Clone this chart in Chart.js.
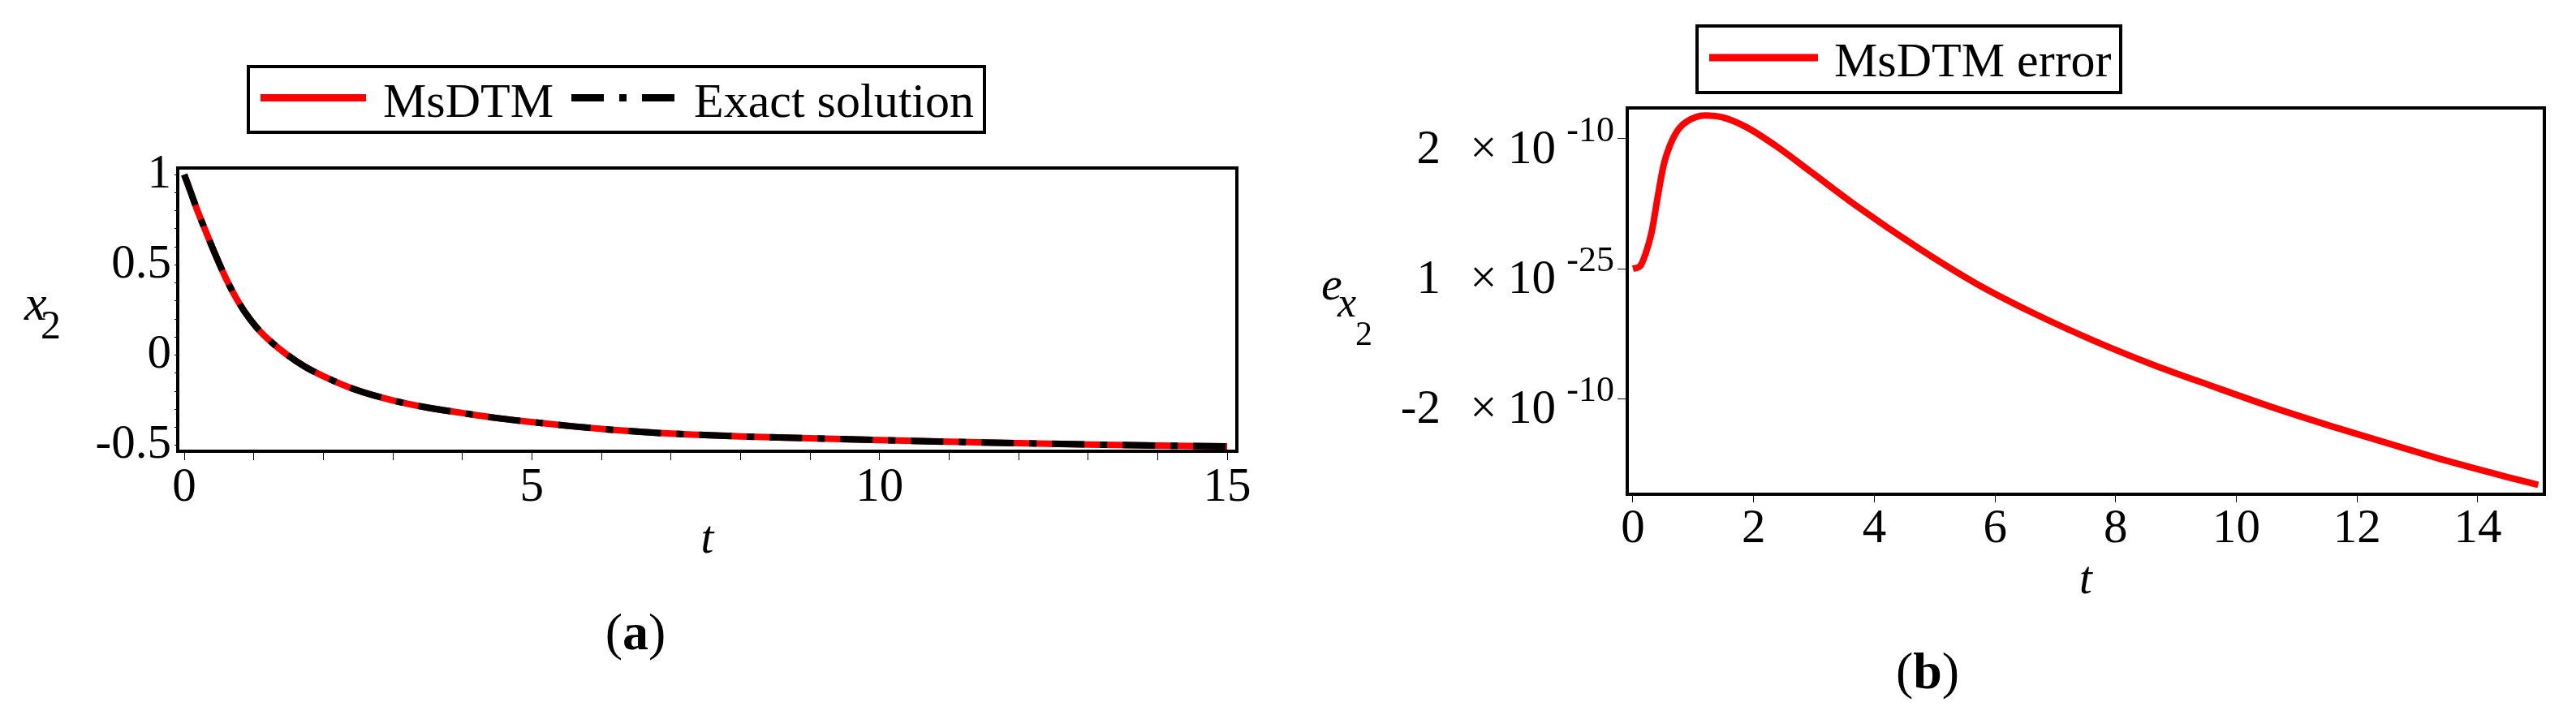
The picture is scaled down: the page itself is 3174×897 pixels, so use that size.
<!DOCTYPE html>
<html>
<head>
<meta charset="utf-8">
<script src="https://cdn.jsdelivr.net/npm/chart.js@4.4.1/dist/chart.umd.min.js"></script>
<style>
html,body{margin:0;padding:0;background:#fff;}
body{width:3174px;height:897px;position:relative;overflow:hidden;}
canvas{position:absolute;top:0;}
#ca{left:0;}
#cb{left:1590px;}
</style>
</head>
<body>
<canvas id="ca" width="1590" height="897"></canvas>
<canvas id="cb" width="1584" height="897"></canvas>
<script>
// ---------- Panel (a) data ----------
const tA      = [0, 0.1, 0.2, 0.3, 0.4, 0.5, 0.6, 0.72, 0.87, 1.05, 1.26, 1.47, 1.73, 2.04, 2.46, 3.0, 3.5, 4.0, 4.5, 5.0, 5.6, 6.1, 6.6, 7.0, 8.0, 9.0, 10, 11, 12, 13, 14, 15];
const msdtmA  = [1.0, 0.895, 0.79, 0.695, 0.60, 0.51, 0.425, 0.335, 0.24, 0.15, 0.07, 0.005, -0.062, -0.123, -0.19, -0.25, -0.29, -0.32, -0.348, -0.37, -0.394, -0.411, -0.425, -0.434, -0.449, -0.46, -0.47, -0.479, -0.487, -0.494, -0.5, -0.505];
const exactA  = [1.0, 0.895, 0.79, 0.695, 0.60, 0.51, 0.425, 0.335, 0.24, 0.15, 0.07, 0.005, -0.062, -0.123, -0.19, -0.25, -0.29, -0.32, -0.348, -0.37, -0.394, -0.411, -0.425, -0.434, -0.449, -0.46, -0.47, -0.479, -0.487, -0.494, -0.5, -0.505];
const xTickValuesA = [0, 5, 10, 15];
const xTickLabelsA = ['0', '5', '10', '15'];
const yTickValuesA = [-0.5, 0, 0.5, 1];
const yTickLabelsA = ['-0.5', '0', '0.5', '1'];
const legendA = ['MsDTM', 'Exact solution'];
const yTitleA = ['x', '2'];
const captionA = ['(', 'a', ')'];

// ---------- Panel (b) data ----------
const tB   = [0, 0.12, 0.21, 0.31, 0.41, 0.51, 0.61, 0.75, 0.9, 1.19, 1.49, 1.88, 2.37, 2.95, 3.73, 4.71, 5.69, 6.67, 7.64, 8.62, 9.6, 10.58, 11.55, 12.53, 13.51, 14.49, 15.0];
const errB = [0, 0.04e-10, 0.23e-10, 0.56e-10, 1.10e-10, 1.60e-10, 1.89e-10, 2.14e-10, 2.27e-10, 2.36e-10, 2.33e-10, 2.18e-10, 1.89e-10, 1.49e-10, 0.95e-10, 0.33e-10, -0.23e-10, -0.70e-10, -1.11e-10, -1.48e-10, -1.81e-10, -2.13e-10, -2.42e-10, -2.695e-10, -2.965e-10, -3.21e-10, -3.33e-10];
const xTickValuesB = [0, 2, 4, 6, 8, 10, 12, 14];
const xTickLabelsB = ['0', '2', '4', '6', '8', '10', '12', '14'];
const yTickValuesB = [-2e-10, 0, 2e-10];
const yTickMantB = ['-2', '1', '2'];
const yTickExpB  = ['-10', '-25', '-10'];
const legendB = ['MsDTM error'];
const yTitleB = ['e', 'x', '2'];
const captionB = ['(', 'b', ')'];

const xTitle = 't';
const timesSign = '×';
const tenBase = '10';

const SERIF = "'Liberation Serif', 'Times New Roman', serif";
Chart.defaults.font.family = SERIF;
Chart.defaults.color = '#000';

function labelFor(v, vals, labels, tol) {
  for (let i = 0; i < vals.length; i++) if (Math.abs(v - vals[i]) < tol) return labels[i];
  return '';
}

const deco = {
  id: 'deco',
  afterDatasetsDraw(chart, args, o) {
    const {ctx, chartArea: a} = chart;
    ctx.save();
    ctx.strokeStyle = '#000';
    ctx.lineWidth = o.frameWidth;
    ctx.strokeRect(a.left, a.top, a.right - a.left, a.bottom - a.top);
    ctx.restore();
  },
  afterDraw(chart, args, o) {
    const ctx = chart.ctx;
    const a = chart.chartArea;
    ctx.save();
    ctx.fillStyle = '#000';
    // legend box
    const L = o.legend;
    ctx.strokeStyle = '#000';
    ctx.lineWidth = L.border;
    ctx.strokeRect(L.x, L.y, L.w, L.h);
    const cy = L.y + L.h / 2;
    let x = L.x + L.padLeft;
    ctx.font = L.font;
    ctx.textAlign = 'left';
    ctx.textBaseline = 'alphabetic';
    chart.data.datasets.forEach(ds => {
      ctx.save();
      ctx.strokeStyle = ds.borderColor;
      ctx.lineWidth = L.lineWidth;
      ctx.lineCap = 'butt';
      ctx.setLineDash(ds.borderDash || []);
      ctx.beginPath();
      ctx.moveTo(x, cy + L.lineDy);
      ctx.lineTo(x + L.lineLen, cy + L.lineDy);
      ctx.stroke();
      ctx.restore();
      x += L.lineLen + L.textGap;
      ctx.fillText(ds.label, x, cy + L.textDy);
      x += ctx.measureText(ds.label).width + L.itemGap;
    });
    // y-axis title pieces (with subscripts)
    o.yTitle.forEach(p => {
      ctx.font = p.font;
      ctx.textAlign = 'left';
      ctx.fillText(p.text, a.left + p.dx, (a.top + a.bottom) / 2 + p.dy);
    });
    // caption
    const C = o.caption;
    const widths = C.parts.map((s, i) => { ctx.font = C.fonts[i]; return ctx.measureText(s).width; });
    let cx = C.cx - widths.reduce((s, w) => s + w, 0) / 2;
    C.parts.forEach((s, i) => {
      ctx.font = C.fonts[i];
      ctx.textAlign = 'left';
      ctx.fillText(s, cx, C.baseline);
      cx += widths[i];
    });
    // custom y tick labels with exponents
    if (o.expLabels) {
      const E = o.expLabels;
      const ys = chart.scales.y;
      E.values.forEach((v, i) => {
        const py = ys.getPixelForValue(v);
        const x0 = a.left;
        ctx.font = E.mainFont;
        ctx.textAlign = 'right';
        ctx.fillText(E.mant[i], x0 - E.mantRight, py + E.mainDy);
        ctx.textAlign = 'center';
        ctx.fillText(timesSign, x0 - E.timesCenter, py + E.mainDy);
        ctx.textAlign = 'right';
        ctx.fillText(tenBase, x0 - E.tenRight, py + E.mainDy);
        ctx.font = E.expFont;
        ctx.fillText(E.exp[i], x0 - E.expRight, py + E.expDy);
      });
    }
    ctx.restore();
  }
};

// ---------- Chart (a) ----------
new Chart(document.getElementById('ca'), {
  type: 'line',
  data: {
    datasets: [
      { label: legendA[0], data: tA.map((t, i) => ({x: t, y: msdtmA[i]})),
        borderColor: '#ff0000', borderWidth: 8, pointRadius: 0,
        cubicInterpolationMode: 'monotone', order: 1 },
      { label: legendA[1], data: tA.map((t, i) => ({x: t, y: exactA[i]})),
        borderColor: '#000000', borderWidth: 8, borderDash: [40, 19, 9, 19], pointRadius: 0,
        cubicInterpolationMode: 'monotone', order: 0 }
    ]
  },
  options: {
    responsive: false, animation: false, devicePixelRatio: 1,
    layout: { padding: { left: 0, top: 207, right: 66, bottom: 197 } },
    plugins: {
      legend: { display: false }, tooltip: { enabled: false },
      deco: {
        frameWidth: 4,
        legend: { x: 306, y: 82, w: 907, h: 81, border: 4, padLeft: 15, lineLen: 130, textGap: 21, itemGap: 22,
                  lineWidth: 9, lineDy: -2, textDy: 21, font: "60px " + SERIF },
        yTitle: [
          { text: yTitleA[0], font: "italic 62px " + SERIF, dx: -189, dy: 12 },
          { text: yTitleA[1], font: "50px " + SERIF, dx: -169, dy: 35 }
        ],
        caption: { parts: captionA, fonts: ["64px " + SERIF, "bold 64px " + SERIF, "64px " + SERIF], cx: 783, baseline: 800 }
      }
    },
    scales: {
      x: {
        type: 'linear', min: -0.0934, max: 15.14,
        afterFit(s) { s.height = 144; },
        border: { display: true, color: '#000', width: 4 },
        grid: { drawOnChartArea: false, drawTicks: true, tickLength: 11, color: '#000', lineWidth: 1 },
        ticks: { stepSize: 1, autoSkip: false, maxRotation: 0, minRotation: 0, includeBounds: false,
                 padding: -1, color: '#000', font: { size: 59 },
                 callback: v => labelFor(v, xTickValuesA, xTickLabelsA, 1e-6) },
        title: { display: true, text: xTitle, font: { size: 57, style: 'italic' }, padding: 0, color: '#000' }
      },
      y: {
        type: 'linear', min: -0.5315, max: 1.036,
        afterFit(s) { s.width = 219; },
        border: { display: true, color: '#000', width: 4 },
        grid: { drawOnChartArea: false, drawTicks: true, tickLength: 4, color: '#000', lineWidth: 1 },
        ticks: { stepSize: 0.1, autoSkip: false, includeBounds: false, padding: 4, color: '#000', font: { size: 59 },
                 callback: v => labelFor(v, yTickValuesA, yTickLabelsA, 1e-6) }
      }
    }
  },
  plugins: [deco]
});

// ---------- Chart (b) ----------
new Chart(document.getElementById('cb'), {
  type: 'line',
  data: {
    datasets: [
      { label: legendB[0], data: tB.map((t, i) => ({x: t, y: errB[i]})),
        borderColor: '#ff0000', borderWidth: 8, pointRadius: 0,
        cubicInterpolationMode: 'monotone' }
    ]
  },
  options: {
    responsive: false, animation: false, devicePixelRatio: 1,
    layout: { padding: { left: 0, top: 133, right: 39, bottom: 147 } },
    plugins: {
      legend: { display: false }, tooltip: { enabled: false },
      deco: {
        frameWidth: 4,
        legend: { x: 501, y: 32, w: 522, h: 82, border: 4, padLeft: 15, lineLen: 134, textGap: 20, itemGap: 20,
                  lineWidth: 9, lineDy: -2, textDy: 21, font: "60px " + SERIF },
        yTitle: [
          { text: yTitleB[0], font: "italic 58px " + SERIF, dx: -377, dy: -2 },
          { text: yTitleB[1], font: "italic 52px " + SERIF, dx: -357, dy: 19 },
          { text: yTitleB[2], font: "42px " + SERIF, dx: -335, dy: 54 }
        ],
        caption: { parts: captionB, fonts: ["64px " + SERIF, "bold 64px " + SERIF, "64px " + SERIF], cx: 785, baseline: 848 },
        expLabels: { values: yTickValuesB, mant: yTickMantB, exp: yTickExpB,
                     mainFont: "59px " + SERIF, expFont: "44px " + SERIF,
                     mantRight: 230, timesCenter: 177, tenRight: 88, expRight: 16, mainDy: 30, expDy: 3 }
      }
    },
    scales: {
      x: {
        type: 'linear', min: -0.094, max: 15.103,
        afterFit(s) { s.height = 141; },
        border: { display: true, color: '#000', width: 4 },
        grid: { drawOnChartArea: false, drawTicks: true, tickLength: 10, color: '#000', lineWidth: 1 },
        ticks: { stepSize: 2, autoSkip: false, maxRotation: 0, minRotation: 0, includeBounds: false,
                 padding: -2, color: '#000', font: { size: 59 },
                 callback: v => labelFor(v, xTickValuesB, xTickLabelsB, 1e-6) },
        title: { display: true, text: xTitle, font: { size: 57, style: 'italic' }, padding: 0, color: '#000' }
      },
      y: {
        type: 'linear', min: -3.475e-10, max: 2.475e-10,
        afterFit(s) { s.width = 415; },
        border: { display: true, color: '#000', width: 4 },
        grid: { drawOnChartArea: false, drawTicks: true, tickLength: 12, color: '#000', lineWidth: 1 },
        ticks: { stepSize: 2e-10, autoSkip: false, includeBounds: false, padding: 0, color: '#000', font: { size: 59 },
                 callback: () => '' }
      }
    }
  },
  plugins: [deco]
});
</script>
</body>
</html>
